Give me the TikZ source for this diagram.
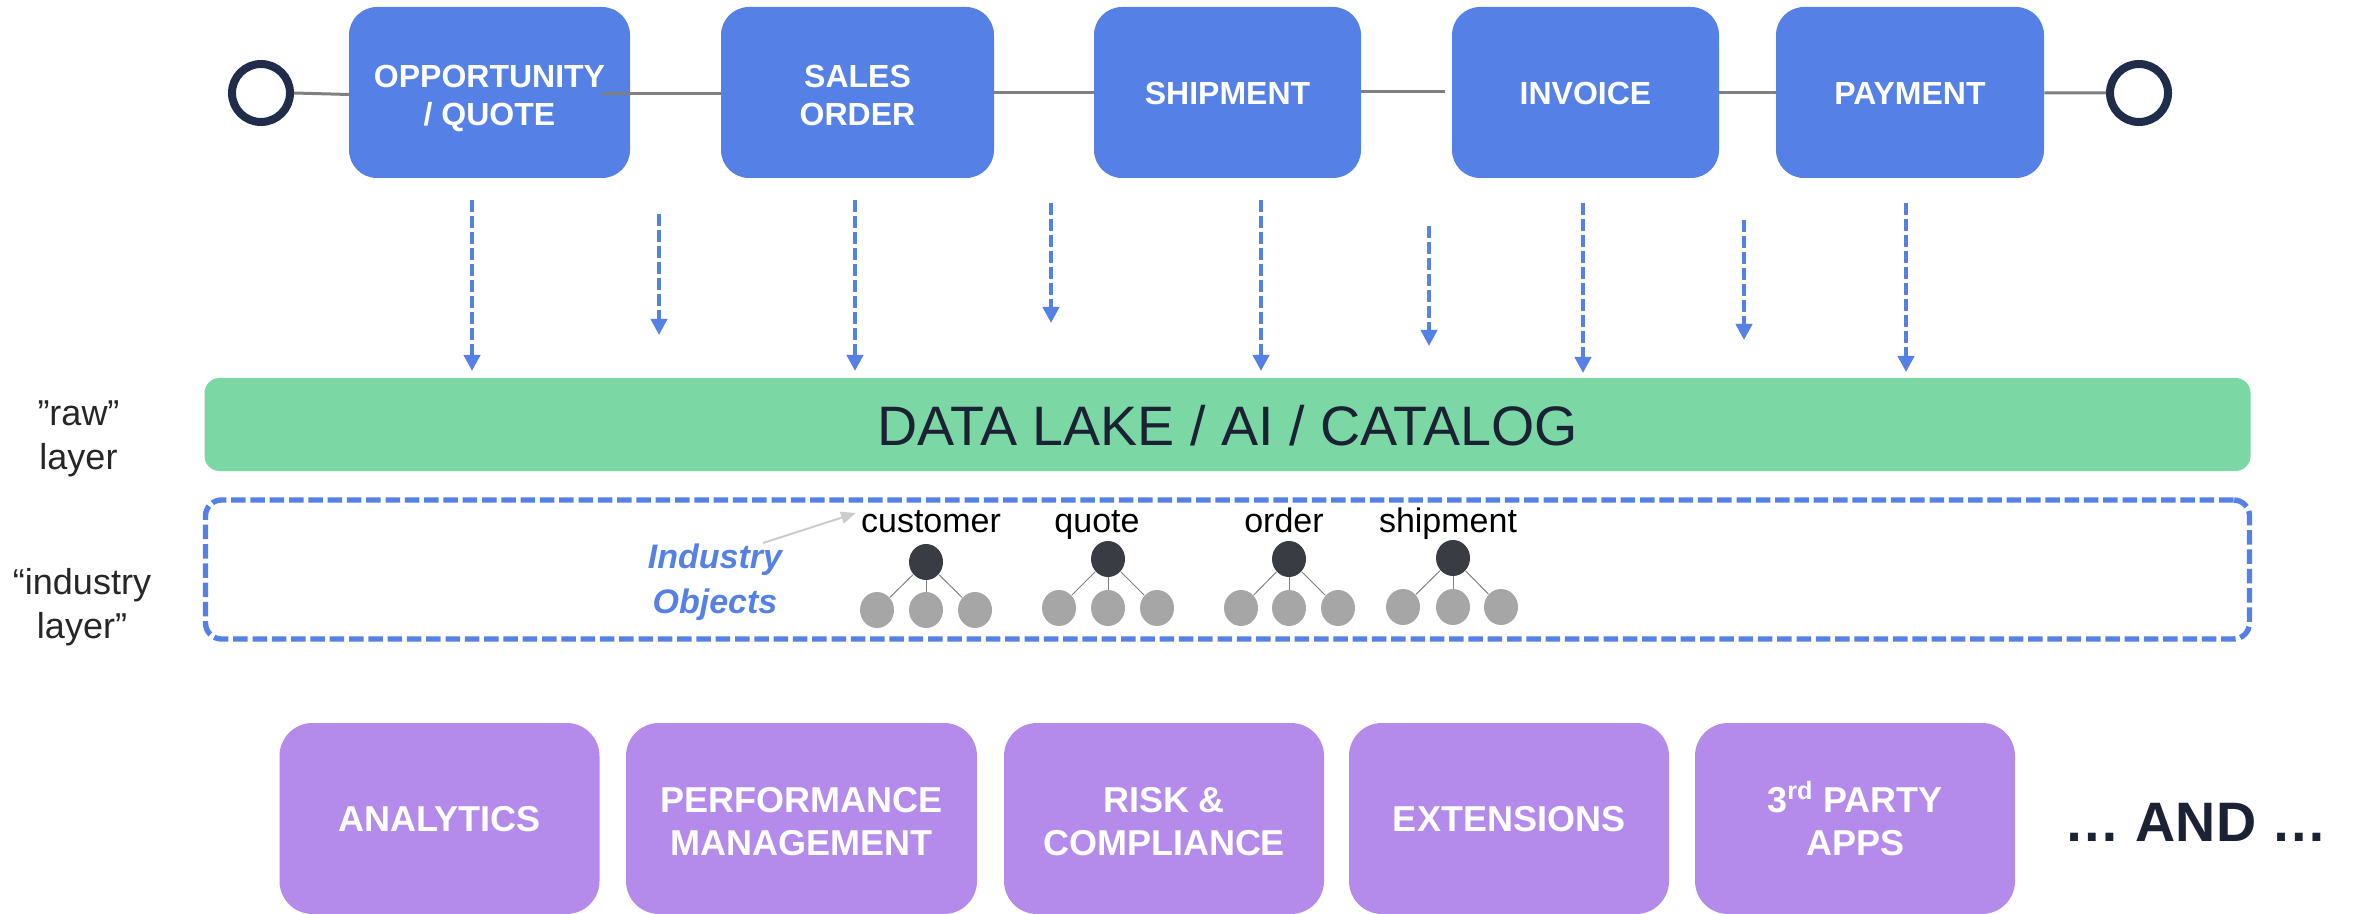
\documentclass[tikz,border=0pt]{standalone}
\usepackage{fontspec}
\setmainfont{Liberation Sans}
\usetikzlibrary{arrows.meta,shapes.geometric}
\definecolor{flowblue}{HTML}{5580E6}
\definecolor{lakegreen}{HTML}{7BD8A5}
\definecolor{apppurple}{HTML}{B48AEB}
\definecolor{ringnavy}{HTML}{1F2D4A}
\definecolor{rootdark}{HTML}{3A3C43}
\definecolor{childgray}{HTML}{A6A6A6}
\definecolor{inkdark}{HTML}{1A2233}
\newcommand{\lineup}[1]{\rule{0pt}{#1pt}}
\tikzset{
  stagebox/.style={fill=flowblue,rounded corners=14pt,inner sep=0pt,text=white,align=center,minimum height=85.5pt,
    font=\bfseries\fontsize{16}{18.7}\selectfont},
  appbox/.style={fill=apppurple,rounded corners=16.5pt,inner sep=0pt,text=white,align=center,minimum height=95.5pt,
    font=\bfseries\fontsize{18}{21.5}\selectfont},
  ring/.style={circle,draw=ringnavy,line width=4pt,minimum size=29pt,inner sep=0pt,fill=white},
  flowline/.style={draw=gray,line width=1.5pt},
  feed/.style={draw=flowblue,line width=2pt,dash pattern=on 6pt off 2pt,-{Triangle[length=8pt,width=8pt]}},
  rootnode/.style={ellipse,fill=rootdark,minimum width=17pt,minimum height=18pt,inner sep=0pt},
  childnode/.style={ellipse,fill=childgray,minimum width=17pt,minimum height=18pt,inner sep=0pt},
  treeline/.style={draw=gray,line width=0.5pt},
  objlabel/.style={text=black,inner sep=0pt,font=\fontsize{17}{20}\selectfont},
  layerlabel/.style={text=black!85,align=center,inner sep=0pt,font=\fontsize{18}{22}\selectfont},
}
\begin{document}
\begin{tikzpicture}[x=0.5pt,y=-0.5pt]
\useasboundingbox (0,0) rectangle (2354,914);
% process stages
\node[stagebox,minimum width=140.5pt] (b1) at (489.5,92.5) {\lineup{14}OPPORTUNITY\\\smash{/ QUOTE}};
\node[stagebox,minimum width=136.5pt] (b2) at (857.5,92.5) {\lineup{14}SALES\\ORDER};
\node[stagebox,minimum width=133.5pt] (b3) at (1227.5,92.5) {\lineup{12}SHIPMENT};
\node[stagebox,minimum width=133.5pt] (b4) at (1585.5,92.5) {\lineup{12}INVOICE};
\node[stagebox,minimum width=134pt] (b5) at (1910,92.5) {\lineup{12}PAYMENT};
\node[ring] (start) at (261,93) {};
\node[ring] (stop) at (2139,93) {};
\coordinate (b1tail) at (349,94.5);
\coordinate (b1in) at (602,93.5);
\coordinate (b4near) at (1445,92);
\draw[flowline] (start.east) -- (b1tail);
\draw[flowline] (b1in) -- (b2.west |- b1in);
\draw[flowline] (b2) -- (b3);
\draw[flowline] (b3.east |- b4near) -- (b4near);
\draw[flowline] (b4) -- (b5);
\draw[flowline] (b5) -- (stop);
% feeds
\foreach \n/\x/\ya/\yb in {1/472/200/371,2/659/214/335,3/855/200/371,4/1051/203/323,5/1261/200/371,6/1429/226/346,7/1583/203/373,8/1744/220/340,9/1906/203/372}{
  \coordinate (fa\n) at (\x,\ya);
  \coordinate (fb\n) at (\x,\yb);
  \draw[feed] (fa\n) -- (fb\n);
}
% layers
\node[fill=lakegreen,rounded corners=7.5pt,minimum width=1023pt,minimum height=46.5pt,inner sep=0pt,text=inkdark,
  font=\fontsize{27.8}{30}\selectfont] (lake) at (1227.5,424.5) {\lineup{21}DATA LAKE / AI / CATALOG};
\node[draw=flowblue,line width=2.7pt,dash pattern=on 7.25pt off 2.4pt,rounded corners=8pt,minimum width=1022pt,minimum height=69.5pt,inner sep=0pt] (industry) at (1227.5,569.5) {};
\node[layerlabel] (rawlab) at (78.5,439) {”raw”\\layer};
\node[layerlabel] (indlab) at (82,607) {“industry\\layer”};
\node[text=flowblue,align=center,inner sep=0pt,font=\bfseries\itshape\fontsize{17}{22.5}\selectfont] (objs) at (715,582) {Industry\\Objects};
\coordinate (objstail) at (763,543);
\coordinate (objshead) at (856,513);
\draw[draw=black!20,line width=1pt,-{Triangle[length=7.5pt,width=6pt]}] (objstail) -- (objshead);
% object trees
\foreach \n/\txt/\tx/\rx/\ry/\cl/\cm/\cr/\cy in {
  a/customer/931/926/562/877/926/975/610,
  b/quote/1097/1108/559/1059/1108/1157/608,
  c/order/1284/1289/559/1241/1289/1338/608,
  d/shipment/1448/1453/558/1403/1453/1501/607}{
  \node[objlabel,anchor=base] (l\n) at (\tx,532) {\txt};
  \node[rootnode] (r\n) at (\rx,\ry) {};
  \node[childnode] (x\n) at (\cl,\cy) {};
  \node[childnode] (y\n) at (\cm,\cy) {};
  \node[childnode] (z\n) at (\cr,\cy) {};
  \draw[treeline] (r\n) -- (x\n);
  \draw[treeline] (r\n) -- (y\n);
  \draw[treeline] (r\n) -- (z\n);
}
% applications
\node[appbox,minimum width=160pt] (p1) at (439.5,818.5) {\lineup{13.5}ANALYTICS};
\node[appbox,minimum width=175.5pt] (p2) at (801.5,818.5) {\lineup{15.5}PERFORMANCE\\MANAGEMENT};
\node[appbox,minimum width=160pt] (p3) at (1164,818.5) {\lineup{15.5}RISK \&\\COMPLIANCE};
\node[appbox,minimum width=160pt] (p4) at (1509,818.5) {\lineup{13.5}EXTENSIONS};
\node[appbox,minimum width=160pt] (p5) at (1855,818.5) {3\textsuperscript{rd} PARTY\\APPS};
\node[text=inkdark,inner sep=0pt,font=\bfseries\fontsize{27.8}{30}\selectfont] (more) at (2196,822) {… AND …};
\end{tikzpicture}
\end{document}
